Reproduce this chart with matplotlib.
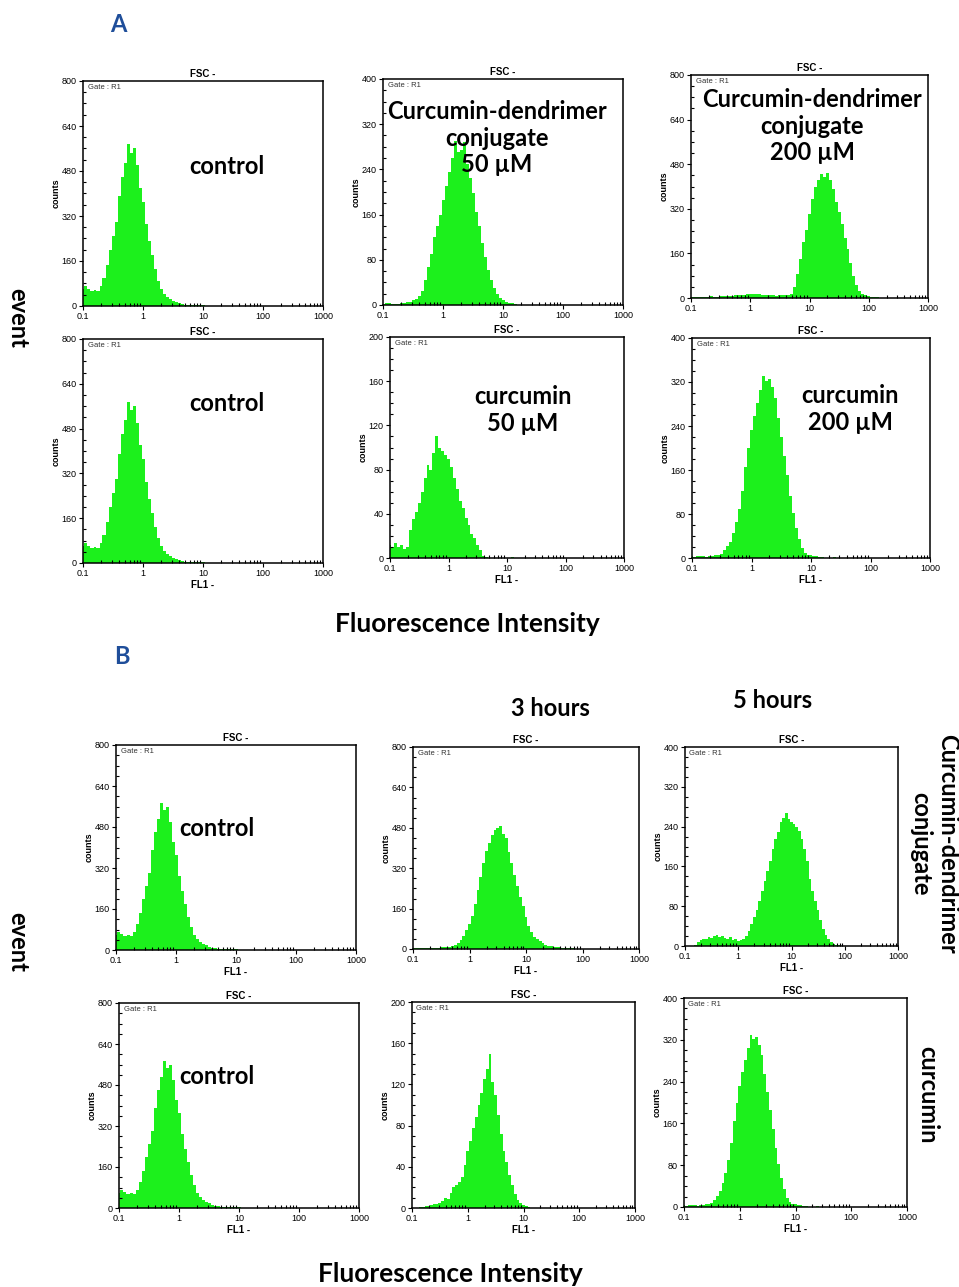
"""
Flow cytometry uptake histograms (curcumin vs curcumin-dendrimer conjugate)
"""

import matplotlib.pyplot as plt
import numpy as np
from matplotlib.ticker import MultipleLocator, AutoMinorLocator, LogLocator, NullFormatter

plt.rcParams["font.family"] = ["Liberation Sans", "DejaVu Sans"]

# histogram channels: log10(FL1) starts at -1 (0.1), 20 channels per decade
LOG_START = -1.0
LOG_STEP = 0.05

CONTROL = [60, 72, 62, 55, 58, 55, 70, 100, 145, 200,
           250, 300, 390, 460, 510, 575, 545, 560, 500, 420,
           370, 290, 230, 180, 130, 90, 60, 42, 33, 25,
           18, 13, 9, 7, 5, 4, 3, 3, 2, 2,
           3, 1, 1, 0, 0, 0, 0, 0, 0, 0,
           0, 0, 0, 0, 0, 0, 0, 0, 0, 0,
           0, 0, 0, 0, 0]
CONJ_50UM = [2, 3, 3, 2, 1, 2, 3, 4, 5, 6,
             8, 10, 16, 24, 45, 68, 90, 120, 140, 160,
             185, 210, 235, 260, 290, 270, 275, 288, 250, 225,
             198, 165, 140, 110, 85, 62, 45, 30, 20, 12,
             8, 5, 4, 3, 2, 0, 0, 0, 0, 0,
             0, 0, 0, 0, 0, 0, 0, 0, 0, 0,
             0, 0, 0, 0, 0]
CONJ_200UM = [3, 4, 5, 4, 3, 5, 4, 6, 5, 4,
              6, 6, 7, 8, 8, 9, 10, 10, 12, 14,
              15, 16, 15, 13, 11, 10, 9, 10, 9, 8,
              9, 10, 10, 12, 15, 40, 85, 140, 200, 245,
              300, 355, 400, 425, 445, 435, 450, 425, 390, 345,
              310, 265, 215, 175, 125, 80, 45, 25, 15, 10,
              6, 4, 3, 2, 1]
CUR_50UM = [12, 10, 14, 10, 12, 8, 10, 25, 35, 42,
            50, 60, 72, 84, 80, 95, 110, 100, 97, 93,
            90, 82, 72, 62, 52, 45, 36, 30, 22, 18,
            12, 7, 2, 1, 0, 0, 0, 0, 0, 0,
            0, 0, 1, 0, 0, 0, 0, 0, 0, 0,
            0, 0, 0, 0, 0, 0, 0, 0, 0, 0,
            0, 0, 0, 0, 0]
CUR_200UM = [3, 2, 3, 4, 3, 2, 3, 4, 5, 6,
             8, 14, 22, 30, 45, 65, 90, 122, 165, 200,
             232, 258, 282, 305, 330, 322, 325, 310, 290, 255,
             220, 185, 150, 112, 82, 55, 35, 18, 10, 6,
             5, 4, 3, 2, 1, 0, 0, 0, 1, 0,
             0, 0, 0, 0, 0, 0, 0, 0, 0, 0,
             0, 0, 0, 0, 0]
CONJ_3H = [2, 3, 2, 3, 4, 3, 4, 5, 4, 5,
           6, 7, 8, 9, 10, 14, 22, 35, 50, 75,
           100, 130, 180, 235, 285, 340, 390, 420, 450, 470,
           480, 488, 455, 440, 385, 340, 295, 250, 205, 170,
           128, 92, 68, 48, 38, 30, 22, 17, 13, 10,
           8, 7, 6, 5, 4, 3, 2, 2, 1, 0,
           0, 0, 0, 0, 0]
CONJ_5H = [0, 0, 0, 0, 3, 8, 12, 15, 14, 18,
           16, 20, 22, 18, 20, 17, 15, 18, 12, 14,
           11, 12, 14, 20, 30, 45, 58, 72, 90, 110,
           130, 150, 170, 195, 215, 230, 250, 258, 268, 255,
           250, 245, 240, 232, 215, 195, 170, 135, 110, 90,
           72, 52, 35, 22, 14, 8, 5, 3, 2, 1,
           0, 0, 0, 0, 0]
CUR_3H = [0, 0, 0, 1, 1, 2, 2, 3, 4, 4,
          5, 7, 10, 9, 15, 20, 22, 25, 30, 42,
          55, 65, 78, 88, 100, 112, 125, 135, 150, 122,
          110, 90, 72, 55, 45, 32, 22, 14, 8, 5,
          3, 2, 1, 0, 0, 0, 0, 0, 0, 0,
          0, 0, 0, 0, 0, 0, 0, 0, 0, 0,
          0, 0, 0, 0, 0]
CUR_5H = CUR_200UM

X_TICKS = [0.1, 1, 10, 100, 1000]
X_TICK_LABELS = ["0.1", "1", "10", "100", "1000"]

GREEN = "#1cf01c"
BLUE = "#1f4e9a"
FIG_W, FIG_H = 959, 1287
NOTE_FONT = dict(family=["Lato", "DejaVu Sans"], fontweight="bold", fontsize=17)
BIG_FONT = dict(family=["Lato", "DejaVu Sans"], fontweight="bold", fontsize=19)


def fx(px):
    return px / FIG_W


def fy(py):
    return 1 - py / FIG_H


# (left, top, right, bottom) pixel boxes, counts, y max, x label
PANELS = [
    ((83, 81, 323, 306), CONTROL, 800, ""),
    ((383, 79, 623, 305), CONJ_50UM, 400, ""),
    ((691, 75, 928, 298), CONJ_200UM, 800, ""),
    ((83, 339, 323, 563), CONTROL, 800, "FL1 -"),
    ((390, 337, 624, 558), CUR_50UM, 200, "FL1 -"),
    ((692, 338, 930, 558), CUR_200UM, 400, "FL1 -"),
    ((116, 745, 356, 950), CONTROL, 800, "FL1 -"),
    ((413, 747, 639, 949), CONJ_3H, 800, "FL1 -"),
    ((685, 747, 898, 946), CONJ_5H, 400, "FL1 -"),
    ((119, 1003, 359, 1208), CONTROL, 800, "FL1 -"),
    ((412, 1002, 635, 1208), CUR_3H, 200, "FL1 -"),
    ((684, 998, 907, 1207), CUR_5H, 400, "FL1 -"),
]

NOTES = [
    ("control", 227, 166),
    ("Curcumin-dendrimer\nconjugate\n50 µM", 497, 138),
    ("Curcumin-dendrimer\nconjugate\n200 µM", 812, 126),
    ("control", 227, 404),
    ("curcumin\n50 µM", 523, 410),
    ("curcumin\n200 µM", 850, 409),
    ("control", 217, 829),
    ("control", 217, 1077),
    ("3 hours", 550, 709),
    ("5 hours", 773, 700),
]


def plot_hist(ax, counts, ymax, xlabel):
    counts = np.asarray(counts, dtype=float)
    edges = 10 ** (LOG_START + LOG_STEP * (np.arange(len(counts) + 1) - 0.5))
    ax.stairs(counts, edges, fill=True, color=GREEN, lw=0)
    ax.set_xscale("log")
    ax.set_xlim(0.1, 1000)
    ax.set_ylim(0, ymax)
    ax.set_xticks(X_TICKS)
    ax.set_xticklabels(X_TICK_LABELS)
    ax.xaxis.set_minor_locator(LogLocator(base=10, subs=np.arange(2, 10)))
    ax.xaxis.set_minor_formatter(NullFormatter())
    ax.yaxis.set_major_locator(MultipleLocator(ymax / 5))
    ax.yaxis.set_minor_locator(AutoMinorLocator(4))
    ax.tick_params(which="major", labelsize=6.5, length=3, width=0.8, pad=1.5)
    ax.tick_params(which="minor", direction="in", length=2, width=0.8)
    for sp in ax.spines.values():
        sp.set_linewidth(1.1)
    ax.set_title("FSC -", fontsize=7, fontweight="bold", pad=3)
    ax.set_ylabel("counts", fontsize=6.5, fontweight="bold", labelpad=1)
    if xlabel:
        ax.set_xlabel(xlabel, fontsize=7, fontweight="bold", labelpad=1)
    ax.text(0.02, 0.985, "Gate : R1", transform=ax.transAxes, fontsize=5.5,
            va="top", ha="left", color="#333333")


fig = plt.figure(figsize=(FIG_W / 100, FIG_H / 100), dpi=100)

for (l, t, r, b), counts, ymax, xlabel in PANELS:
    ax = fig.add_axes([fx(l), fy(b), (r - l) / FIG_W, (b - t) / FIG_H])
    plot_hist(ax, counts, ymax, xlabel)

for text, x, y in NOTES:
    fig.text(fx(x), fy(y), text, ha="center", va="center", linespacing=1.2, **NOTE_FONT)

# panel letters and shared labels
fig.text(fx(118), fy(25), "A", color=BLUE, fontsize=17, fontweight="bold",
         family=["Lato", "DejaVu Sans"], ha="center", va="center")
fig.text(fx(122), fy(657), "B", color=BLUE, fontsize=17, fontweight="bold",
         family=["Lato", "DejaVu Sans"], ha="center", va="center")
fig.text(fx(467), fy(624), "Fluorescence Intensity", ha="center", va="center", **BIG_FONT)
fig.text(fx(450), fy(1274), "Fluorescence Intensity", ha="center", va="center", **BIG_FONT)
fig.text(fx(18), fy(318), "event", rotation=-90, ha="center", va="center", **NOTE_FONT)
fig.text(fx(18), fy(942), "event", rotation=-90, ha="center", va="center", **NOTE_FONT)
fig.text(fx(934), fy(844), "Curcumin-dendrimer\nconjugate", rotation=-90, ha="center",
         va="center", linespacing=1.2, **NOTE_FONT)
fig.text(fx(928), fy(1095), "curcumin", rotation=-90, ha="center", va="center", **NOTE_FONT)

fig.savefig("out.png", dpi=100)
